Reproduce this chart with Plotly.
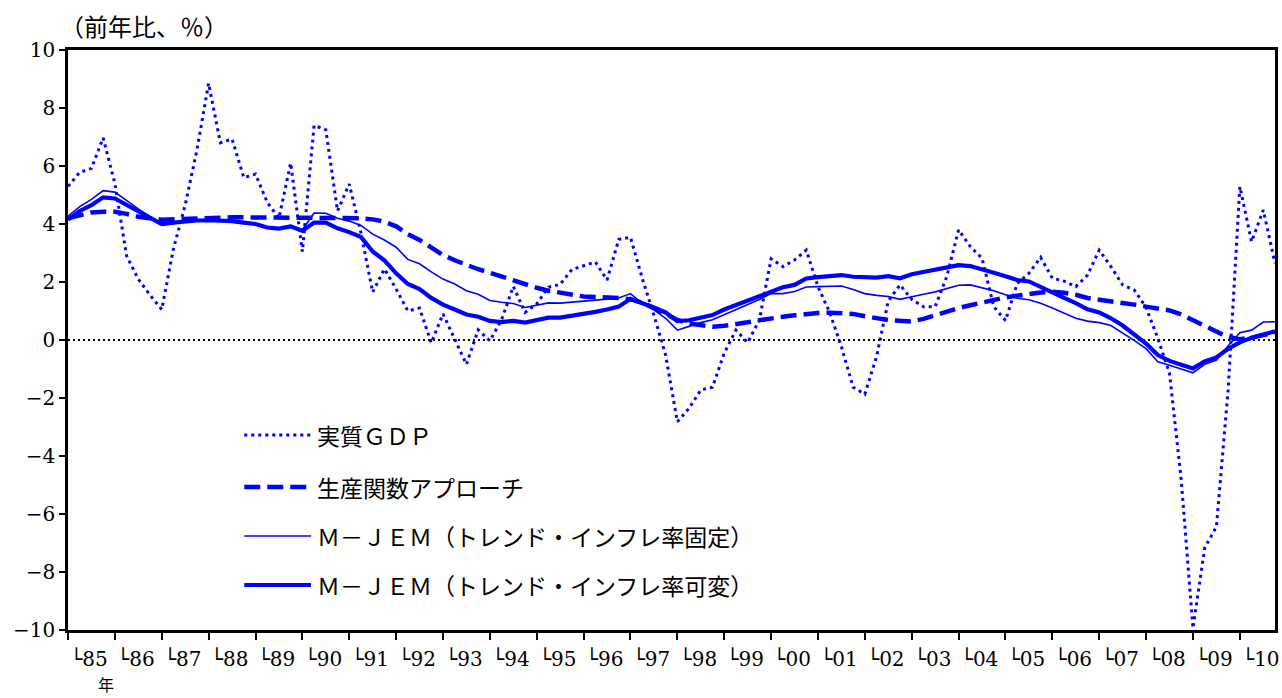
import plotly.graph_objects as go

# ---------------- data (quarterly, 1985Q1 - 2010Q4, y/y %) ----------------
START_YEAR = 1985
N_Q = 104
quarters = [f"{START_YEAR + i // 4}Q{i % 4 + 1}" for i in range(N_Q)]

gdp = [5.3, 5.78, 5.92, 6.97, 5.4, 2.9, 2.1, 1.55, 1.05, 3.15,
       4.65, 6.55, 8.85, 6.8, 6.93, 5.6, 5.72, 4.75, 4.2, 6.1,
       3.05, 7.4, 7.25, 4.45, 5.38, 3.69, 1.65, 2.45, 1.76, 1.0,
       1.1, -0.1, 0.9, 0.0, -0.84, 0.35, -0.03, 0.7, 1.85, 0.95,
       1.25, 1.82, 1.92, 2.43, 2.55, 2.69, 2.07, 3.47, 3.54, 2.13,
       0.86, -0.52, -2.82, -2.35, -1.72, -1.63, -0.45, 0.34, -0.09, 0.69,
       2.8, 2.53, 2.76, 3.1, 1.84, 0.95, -0.23, -1.63, -1.87, -0.57,
       1.35, 1.9, 1.4, 1.15, 1.15, 2.2, 3.8, 3.22, 2.82, 1.15,
       0.67, 1.95, 2.3, 2.85, 2.13, 2.03, 1.84, 2.24, 3.1, 2.53,
       1.9, 1.72, 1.12, 0.06, -1.15, -4.83, -9.94, -7.17, -6.44, -1.72,
       5.29, 3.39, 4.48, 2.65]

prod_func = [4.2, 4.32, 4.4, 4.42, 4.42, 4.35, 4.25, 4.2, 4.15, 4.16,
             4.18, 4.2, 4.22, 4.23, 4.23, 4.23, 4.23, 4.21, 4.2, 4.2,
             4.2, 4.22, 4.23, 4.23, 4.22, 4.2, 4.16, 4.08, 3.92, 3.65,
             3.45, 3.17, 2.93, 2.75, 2.58, 2.44, 2.32, 2.18, 2.04, 1.9,
             1.8, 1.7, 1.63, 1.57, 1.5, 1.48, 1.47, 1.45, 1.4, 1.29,
             1.1, 0.9, 0.69, 0.57, 0.5, 0.46, 0.49, 0.54, 0.61, 0.68,
             0.75, 0.8, 0.85, 0.9, 0.93, 0.94, 0.93, 0.9, 0.82, 0.74,
             0.69, 0.66, 0.64, 0.73, 0.86, 1.0, 1.1, 1.2, 1.3, 1.38,
             1.47, 1.53, 1.6, 1.64, 1.66, 1.63, 1.56, 1.45, 1.39, 1.34,
             1.27, 1.22, 1.15, 1.08, 1.02, 0.88, 0.68, 0.47, 0.28, 0.1,
             0.03, 0.08, 0.17, 0.25]

mjem_fixed = [4.27, 4.6, 4.85, 5.15, 5.1, 4.8, 4.52, 4.25, 3.97, 4.02,
              4.08, 4.12, 4.14, 4.14, 4.12, 4.07, 4.0, 3.9, 3.86, 3.95,
              3.8, 4.38, 4.37, 4.2, 4.1, 3.95, 3.65, 3.45, 3.2, 2.78,
              2.63, 2.35, 2.1, 1.93, 1.7, 1.58, 1.36, 1.3, 1.26, 1.12,
              1.21, 1.28, 1.27, 1.3, 1.34, 1.37, 1.41, 1.45, 1.6, 1.26,
              1.04, 0.75, 0.34, 0.47, 0.6, 0.7, 0.87, 1.05, 1.22, 1.4,
              1.6, 1.6, 1.67, 1.83, 1.84, 1.85, 1.86, 1.74, 1.6, 1.54,
              1.5, 1.4, 1.5, 1.58, 1.66, 1.78, 1.89, 1.9, 1.8, 1.7,
              1.56, 1.44, 1.39, 1.27, 1.1, 0.93, 0.75, 0.65, 0.6, 0.5,
              0.25, -0.02, -0.3, -0.75, -0.87, -1.0, -1.13, -0.84, -0.69, -0.2,
              0.25, 0.34, 0.62, 0.63]

mjem_var = [4.15, 4.45, 4.65, 4.92, 4.88, 4.65, 4.45, 4.2, 4.0, 4.05,
            4.1, 4.12, 4.13, 4.12, 4.1, 4.05, 4.0, 3.88, 3.84, 3.92,
            3.76, 4.05, 4.05, 3.85, 3.72, 3.55, 3.05, 2.75, 2.3, 1.93,
            1.76, 1.45, 1.22, 1.05, 0.88, 0.8, 0.66, 0.62, 0.66, 0.6,
            0.7, 0.77, 0.77, 0.83, 0.9, 0.97, 1.05, 1.15, 1.42, 1.28,
            1.12, 0.95, 0.65, 0.68, 0.78, 0.86, 1.05, 1.2, 1.35, 1.5,
            1.68, 1.82, 1.9, 2.12, 2.17, 2.22, 2.24, 2.18, 2.15, 2.15,
            2.2, 2.13, 2.27, 2.35, 2.42, 2.48, 2.58, 2.55, 2.42, 2.32,
            2.2, 2.07, 2.02, 1.82, 1.65, 1.45, 1.27, 1.06, 0.95, 0.75,
            0.5, 0.2, -0.12, -0.52, -0.72, -0.85, -0.98, -0.74, -0.6, -0.3,
            -0.08, 0.08, 0.2, 0.3]

series_names = ["実質ＧＤＰ", "生産関数アプローチ",
                "Ｍ－ＪＥＭ（トレンド・インフレ率固定）",
                "Ｍ－ＪＥＭ（トレンド・インフレ率可変）"]

tick_years = list(range(1985, 2011))
tick_labels = ["└" + str(y)[2:] for y in tick_years]

y_ticks = list(range(-10, 11, 2))

# ---------------- styles ----------------
BLUE = "#0000FF"
line_styles = [
    dict(color=BLUE, width=3, dash="3px,4px"),
    dict(color=BLUE, width=4.5, dash="16px,7px"),
    dict(color=BLUE, width=1.6),
    dict(color=BLUE, width=4.2),
]
SERIF = "DejaVu Serif"
JP = "Noto Sans CJK JP"

W, H = 1282, 698
L, R, T, B = 68, 2, 50, 68
PW, PH = W - L - R, H - T - B


def px_x(px):
    return (px - L) / PW


def px_y(py):
    return (H - B - py) / PH


# x position of each quarter in decimal years
xq = [int(q[:4]) + (int(q[-1]) - 1) / 4 for q in quarters]

fig = go.Figure()
for name, vals, st in zip(series_names, [gdp, prod_func, mjem_fixed, mjem_var], line_styles):
    fig.add_trace(go.Scatter(x=xq, y=vals, mode="lines", name=name,
                             line=st, showlegend=False, hoverinfo="skip"))

# zero line (dotted black)
fig.add_shape(type="line", xref="x domain", yref="y", x0=0, x1=1, y0=0, y1=0,
              line=dict(color="black", width=2, dash="2px,3px"), layer="below")

# manual legend inside plot
leg_rows_px = [435, 487, 536, 585]
for name, st, ry in zip(series_names, line_styles, leg_rows_px):
    fig.add_shape(type="line", xref="paper", yref="paper",
                  x0=px_x(245), x1=px_x(312), y0=px_y(ry), y1=px_y(ry),
                  line=st)
    fig.add_annotation(xref="paper", yref="paper", x=px_x(316), y=px_y(ry),
                       text=name, showarrow=False, xanchor="left", yanchor="middle",
                       font=dict(family=JP, size=23, color="black"))

# unit label
fig.add_annotation(xref="paper", yref="paper", x=px_x(58), y=px_y(26),
                   text="（前年比、％）", showarrow=False, xanchor="left", yanchor="middle",
                   font=dict(family=JP, size=24, color="black"))
# year marker under first tick label
fig.add_annotation(xref="paper", yref="paper", x=px_x(106), y=px_y(697),
                   text="年", showarrow=False, xanchor="center", yanchor="bottom",
                   borderpad=0, font=dict(family=JP, size=16, color="black"))

fig.update_layout(
    width=W, height=H,
    margin=dict(l=L, r=R, t=T, b=B, pad=0),
    paper_bgcolor="white", plot_bgcolor="white",
    font=dict(family=SERIF, size=20, color="black"),
)
fig.update_xaxes(range=[1985, 2010.75], tickvals=tick_years, ticktext=tick_labels,
                 tickangle=0,
                 ticks="outside", ticklen=7, tickwidth=2, tickcolor="black",
                 ticklabelposition="outside right", ticklabelstandoff=9,
                 showline=True, linewidth=2.5, linecolor="black", mirror=True,
                 showgrid=False, zeroline=False,
                 tickfont=dict(family=SERIF, size=20, color="black"))
fig.update_yaxes(range=[-10, 10], tickvals=y_ticks,
                 ticks="outside", ticklen=6, tickwidth=2, tickcolor="black",
                 showline=True, linewidth=2.5, linecolor="black", mirror=True,
                 showgrid=False, zeroline=False,
                 tickfont=dict(family=SERIF, size=20, color="black"))

fig.write_html("out.html", config={"displayModeBar": False},
               post_script="document.body.style.margin='0';document.body.style.overflow='hidden';")
